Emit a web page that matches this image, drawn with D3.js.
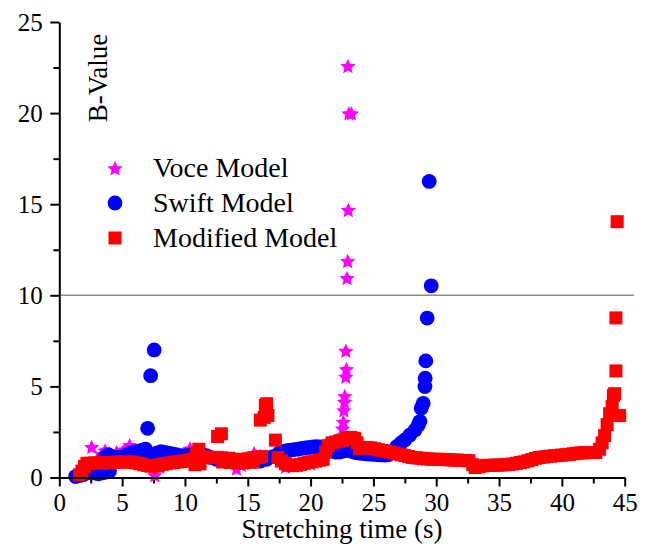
<!DOCTYPE html>
<html>
<head>
<meta charset="utf-8">
<script src="https://cdn.jsdelivr.net/npm/d3@7"></script>
<style>
  html, body { margin: 0; padding: 0; background: #ffffff; }
  svg { display: block; }
</style>
</head>
<body>
<svg id="chart" width="650" height="548"></svg>
<script>
// Voce model b-values
const voceTime = [1.8, 2.2, 2.58, 3.0, 3.4, 3.64, 4.0, 4.56, 5.0, 5.2, 5.6, 6.0, 6.5, 7.0, 7.6, 8.0, 8.5, 9.0, 9.5, 10.0,
  10.4, 10.8, 11.5, 12.0, 13.0, 14.1, 14.5, 15.0, 15.5, 16.0, 17.0, 17.5, 18.0, 19.0, 20.0, 21.0, 21.6, 22.0, 22.3, 22.4,
  22.5, 22.55, 22.6, 22.65, 22.7, 22.72, 22.8, 22.85, 22.8, 22.9, 22.95, 23.0, 23.05, 23.25, 22.97];
const voceB = [0.3, 0.5, 1.69, 1.0, 1.3, 1.5, 1.35, 1.42, 1.4, 1.55, 1.79, 1.45, 1.3, 1.0, 0.14, 0.6, 0.9, 1.0, 1.1, 1.2,
  1.6, 1.4, 1.3, 1.2, 1.1, 0.5, 0.7, 0.9, 1.35, 1.2, 1.1, 0.95, 0.6, 0.7, 0.8, 1.0, 1.4, 1.7, 1.9, 2.0,
  2.3, 2.7, 3.07, 3.7, 4.17, 4.48, 5.54, 5.96, 6.97, 10.96, 11.9, 14.7, 20.0, 20.0, 22.6];

// Swift model b-values
const swiftTime = [1.3, 1.6, 1.9, 2.2, 2.5, 2.8, 3.1, 3.4, 3.7, 4.0, 3.6, 3.9, 4.2, 4.5, 4.8, 5.1, 5.4, 5.7, 6.0, 6.3,
  6.6, 6.87, 7.03, 7.27, 7.55, 7.2, 7.5, 7.8, 8.1, 8.4, 8.7, 9.0, 9.3, 9.6, 9.9, 10.2, 10.5, 10.8, 11.1, 11.4,
  11.7, 12.0, 12.5, 13.0, 13.5, 14.0, 14.5, 15.0, 15.5, 16.0, 16.5, 17.0, 17.5, 17.8, 18.1, 18.4, 18.7, 19.0, 19.3, 19.6,
  19.9, 20.2, 20.5, 20.8, 21.1, 21.4, 21.7, 22.0, 22.3, 22.6, 22.9, 23.2, 23.5, 23.8, 24.1, 24.4, 24.7, 25.0, 25.3, 25.6,
  25.9, 26.2, 26.5, 26.85, 27.2, 27.5, 27.9, 28.3, 28.57, 28.7, 28.8, 28.96, 29.1, 29.12, 29.17, 29.28, 29.6, 29.44];
const swiftB = [0.05, 0.1, 0.15, 0.25, 0.3, 0.25, 0.2, 0.25, 0.3, 0.35, 1.1, 1.25, 1.15, 1.1, 1.1, 1.15, 1.25, 1.35, 1.4, 1.45,
  1.5, 1.55, 2.7, 5.59, 7.0, 1.3, 1.2, 1.35, 1.42, 1.38, 1.33, 1.3, 1.25, 1.2, 1.2, 1.2, 1.25, 1.3, 1.3, 1.25,
  1.2, 1.1, 1.0, 0.95, 0.9, 0.88, 0.85, 0.85, 0.88, 0.9, 1.0, 1.15, 1.35, 1.42, 1.47, 1.5, 1.53, 1.56, 1.6, 1.62,
  1.65, 1.68, 1.7, 1.68, 1.62, 1.55, 1.45, 1.4, 1.4, 1.45, 1.5, 1.45, 1.38, 1.35, 1.32, 1.3, 1.28, 1.27, 1.25, 1.24,
  1.23, 1.25, 1.4, 1.69, 1.9, 2.06, 2.33, 2.6, 2.88, 3.07, 3.8, 4.07, 4.99, 5.45, 6.4, 8.75, 10.52, 16.25];

// Modified model b-values
const modifiedTime = [1.6, 1.8, 2.0, 2.2, 2.5, 2.8, 3.1, 3.4, 3.7, 4.0, 4.3, 4.6, 4.9, 5.2, 5.5, 5.8, 6.1, 6.4, 6.7, 7.0,
  7.3, 7.6, 7.9, 8.2, 8.5, 8.8, 9.1, 9.4, 9.7, 10.0, 10.3, 10.6, 10.8, 11.2, 10.9, 11.1, 11.4, 11.7, 12.0, 12.3,
  12.6, 12.9, 13.2, 13.5, 13.8, 14.1, 14.4, 14.7, 15.0, 15.3, 15.6, 15.9, 16.1, 13.0, 13.6, 14.2, 14.8, 15.4, 12.6, 12.9,
  16.0, 16.3, 16.6, 16.4, 16.5, 17.2, 17.4, 17.7, 18.0, 18.3, 18.6, 18.9, 19.2, 19.5, 19.8, 20.1, 20.4, 20.7, 21.0, 21.2,
  21.4, 21.7, 22.0, 22.3, 22.6, 22.9, 23.2, 23.5, 23.7, 23.9, 24.2, 24.5, 24.8, 25.1, 25.4, 25.7, 26.0, 26.3, 26.6, 26.9,
  27.2, 27.5, 27.8, 28.1, 28.4, 28.7, 29.0, 29.3, 29.6, 29.9, 30.2, 30.5, 30.8, 31.1, 31.4, 31.7, 32.0, 32.3, 32.6, 32.9,
  33.1, 33.4, 33.7, 34.0, 34.3, 34.6, 34.9, 35.2, 35.5, 35.8, 36.1, 36.4, 36.7, 37.0, 37.3, 37.6, 37.9, 38.2, 38.5, 38.8,
  39.1, 39.4, 39.7, 40.0, 40.3, 40.6, 40.9, 41.2, 41.5, 41.8, 42.1, 42.4, 42.7, 43.0, 43.2, 43.4, 43.6, 43.8, 44.0, 44.1,
  44.2, 44.6, 44.3, 44.3, 44.4];
const modifiedB = [0.15, 0.35, 0.6, 0.78, 0.78, 0.8, 0.8, 0.8, 0.82, 0.82, 0.83, 0.84, 0.85, 0.85, 0.86, 0.84, 0.8, 0.76, 0.7, 0.66,
  0.62, 0.62, 0.68, 0.72, 0.76, 0.8, 0.82, 0.85, 0.88, 0.9, 0.95, 1.0, 0.7, 0.75, 1.3, 1.55, 1.15, 1.12, 1.1, 1.1,
  1.1, 1.08, 1.05, 1.05, 1.0, 0.98, 0.98, 1.0, 1.02, 1.05, 1.1, 1.1, 1.15, 0.85, 0.82, 0.8, 0.82, 0.85, 2.25, 2.4,
  3.15, 3.3, 3.4, 3.95, 4.05, 2.05, 1.1, 0.9, 0.75, 0.68, 0.65, 0.68, 0.72, 0.78, 0.82, 0.86, 0.9, 0.95, 1.0, 1.4,
  1.75, 1.9, 1.95, 2.0, 2.05, 2.15, 2.2, 2.15, 1.9, 1.6, 1.62, 1.65, 1.62, 1.58, 1.52, 1.48, 1.44, 1.4, 1.35, 1.3,
  1.25, 1.2, 1.15, 1.1, 1.08, 1.06, 1.04, 1.02, 1.0, 1.0, 1.0, 0.99, 0.98, 0.97, 0.96, 0.95, 0.94, 0.93, 0.92, 0.7,
  0.55, 0.6, 0.64, 0.66, 0.67, 0.68, 0.68, 0.69, 0.7, 0.72, 0.74, 0.78, 0.82, 0.86, 0.92, 0.98, 1.05, 1.1, 1.12, 1.15,
  1.17, 1.19, 1.21, 1.23, 1.25, 1.27, 1.3, 1.33, 1.35, 1.36, 1.37, 1.37, 1.37, 1.55, 1.9, 2.3, 2.9, 3.5, 3.9, 4.5,
  4.6, 3.4, 5.85, 8.76, 14.04];

const xTicks = [0, 5, 10, 15, 20, 25, 30, 35, 40, 45];
const yTicks = [0, 5, 10, 15, 20, 25];
const refLevel = 10;
const FONT = '"Liberation Serif", "Times New Roman", serif';

const svg = d3.select("#chart");
const x = d3.scaleLinear().domain([0, 45]).range([59.3, 624.7]);
const y = d3.scaleLinear().domain([0, 25]).range([477.5, 22]);

// five-pointed star with a wider body than d3.symbolStar; size is the outer radius squared
const fatStar = {
  draw(context, size) {
    const R = Math.sqrt(size), r = R * 0.47;
    for (let i = 0; i < 10; i++) {
      const a = -Math.PI / 2 + i * Math.PI / 5;
      const rad = i % 2 === 0 ? R : r;
      const px = rad * Math.cos(a), py = rad * Math.sin(a);
      if (i === 0) context.moveTo(px, py); else context.lineTo(px, py);
    }
    context.closePath();
  }
};
const stars = d3.symbol().type(fatStar).size(64);

// reference level line at b = 10
svg.append("line")
  .attr("x1", x(0)).attr("x2", 634)
  .attr("y1", y(refLevel)).attr("y2", y(refLevel))
  .attr("stroke", "#8c8c8c").attr("stroke-width", 1.6);

// minor ticks
const xMinor = d3.range(2.5, 45, 5);
const yMinor = d3.range(2.5, 25, 5);
svg.append("g").attr("transform", `translate(0,${y(0)})`)
  .call(d3.axisBottom(x).tickValues(xMinor).tickSize(6).tickFormat(""))
  .call(g => g.select(".domain").remove())
  .call(g => g.selectAll("line").attr("stroke-width", 2));
svg.append("g").attr("transform", `translate(${x(0)},0)`)
  .call(d3.axisLeft(y).tickValues(yMinor).tickSize(6).tickFormat(""))
  .call(g => g.select(".domain").remove())
  .call(g => g.selectAll("line").attr("stroke-width", 2));

// series
svg.append("g").selectAll("path").data(d3.zip(voceTime, voceB)).join("path")
  .attr("d", stars)
  .attr("transform", d => `translate(${x(d[0])},${y(d[1]) + 1})`)
  .attr("fill", "#ff00ff");

svg.append("g").selectAll("circle").data(d3.zip(swiftTime, swiftB)).join("circle")
  .attr("cx", d => x(d[0])).attr("cy", d => y(d[1])).attr("r", 7.4)
  .attr("fill", "#0000ff");

const sq = 13;
svg.append("g").selectAll("rect").data(d3.zip(modifiedTime, modifiedB)).join("rect")
  .attr("x", d => x(d[0]) - sq / 2).attr("y", d => y(d[1]) - sq / 2)
  .attr("width", sq).attr("height", sq)
  .attr("fill", "#ff0000");

// major axes
svg.append("g").attr("transform", `translate(0,${y(0)})`)
  .call(d3.axisBottom(x).tickValues(xTicks).tickSize(9).tickSizeOuter(0).tickPadding(7))
  .call(g => g.select(".domain").attr("stroke-width", 2))
  .call(g => g.selectAll("line").attr("stroke-width", 2))
  .call(g => g.selectAll("text").style("font-family", FONT).style("font-size", "25px").attr("fill", "#000"));
svg.append("g").attr("transform", `translate(${x(0)},0)`)
  .call(d3.axisLeft(y).tickValues(yTicks).tickSize(9).tickSizeOuter(0).tickPadding(7.6))
  .call(g => g.select(".domain").attr("stroke-width", 2))
  .call(g => g.selectAll("line").attr("stroke-width", 2))
  .call(g => g.selectAll("text").style("font-family", FONT).style("font-size", "25px").attr("fill", "#000"));

// axis titles
svg.append("text")
  .attr("x", (x(0) + x(45)) / 2).attr("y", 538)
  .attr("text-anchor", "middle")
  .style("font-family", FONT).style("font-size", "27px")
  .text("Stretching time (s)");
svg.append("text")
  .attr("transform", "translate(107,78) rotate(-90)")
  .attr("text-anchor", "middle")
  .style("font-family", FONT).style("font-size", "27px")
  .text("B-Value");

// legend
const legend = [
  { label: "Voce Model", kind: "star", color: "#ff00ff" },
  { label: "Swift Model", kind: "circle", color: "#0000ff" },
  { label: "Modified Model", kind: "square", color: "#ff0000" }
];
const lg = svg.append("g");
legend.forEach((d, i) => {
  const cy = 168 + i * 35;
  if (d.kind === "star") {
    lg.append("path").attr("d", stars).attr("transform", `translate(115,${cy + 1})`).attr("fill", d.color);
  } else if (d.kind === "circle") {
    lg.append("circle").attr("cx", 115).attr("cy", cy).attr("r", 7.4).attr("fill", d.color);
  } else {
    lg.append("rect").attr("x", 115 - sq / 2).attr("y", cy - sq / 2).attr("width", sq).attr("height", sq).attr("fill", d.color);
  }
  lg.append("text").attr("x", 153).attr("y", cy + 9)
    .style("font-family", FONT).style("font-size", "28px")
    .text(d.label);
});
</script>
</body>
</html>
